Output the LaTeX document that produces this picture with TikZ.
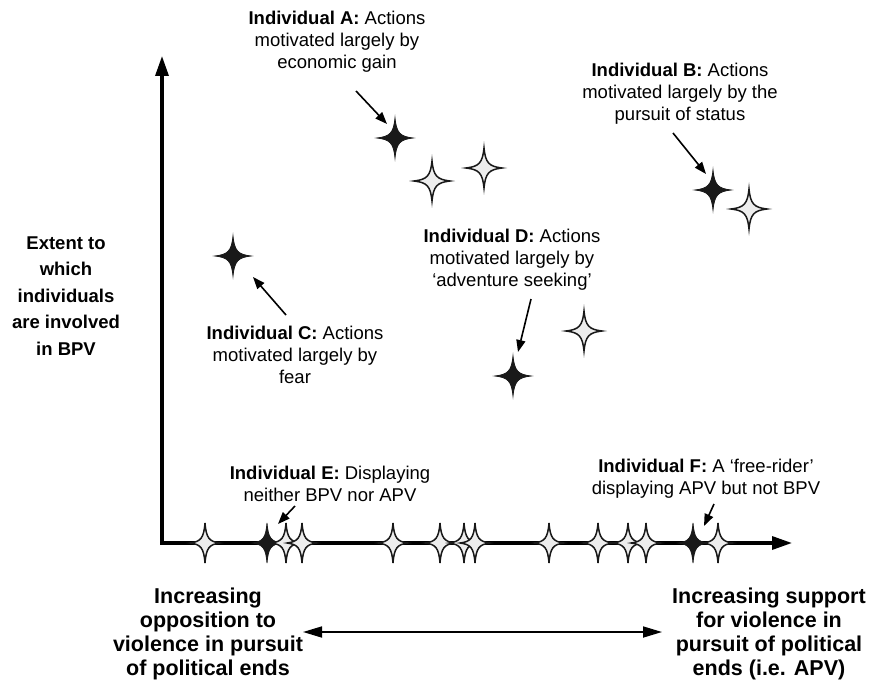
\documentclass[tikz,border=0pt]{standalone}
\usepackage{fontspec}
\setmainfont{Liberation Sans}
\usetikzlibrary{arrows.meta}
\tikzset{
  sparkle/.pic={\path[pic actions] (0,-20) .. controls (1.5,-5) and (5,-1.5) .. (18,0) .. controls (5,1.5) and (1.5,5) .. (0,20)
    .. controls (-1.5,5) and (-5,1.5) .. (-18,0) .. controls (-5,-1.5) and (-1.5,-5) .. (0,-20) -- cycle;}
}
\begin{document}
\begin{tikzpicture}[x=1pt,y=-1pt,
  darkstar/.style={fill=black!90,draw=black!90,line width=0.8pt},
  palestar/.style={fill=black!7,draw=black!90,line width=1.5pt},
  axisstar/.style={xscale=0.82},
  note/.style={align=center,font=\fontsize{18.5}{22}\selectfont,inner sep=0pt},
  caption/.style={align=center,font=\fontsize{21.5}{24}\selectfont\bfseries,inner sep=0pt},
  pointer/.style={line width=1.6pt,-{Triangle[length=12pt,width=9pt]}},
  axis/.style={line width=3.3pt,{Triangle[length=20pt,width=13pt]}-{Triangle[length=20pt,width=13pt]}},
  span/.style={line width=1.7pt,{Triangle[length=19pt,width=11pt]}-{Triangle[length=19pt,width=11pt]}}]
\useasboundingbox (0,0) rectangle (888,690);

% axes
\coordinate (ytop) at (162,56);
\coordinate (xend) at (792,543);
\draw[axis] (ytop) |- (xend);

% stars on the axis
\foreach \px in {267,693}
  \pic[darkstar,axisstar] at (\px,543) {sparkle};
\foreach \px in {205,286,302,393,440,464,475,549,598,628,646,718}
  \pic[palestar,axisstar] at (\px,543) {sparkle};

% stars above the axis
\pic[darkstar] at (395,138) {sparkle};
\pic[palestar] at (432,181) {sparkle};
\pic[palestar] at (484,168) {sparkle};
\pic[darkstar] at (713,190) {sparkle};
\pic[palestar] at (749,209) {sparkle};
\pic[darkstar] at (233,256) {sparkle};
\pic[darkstar] at (513,376) {sparkle};
\pic[palestar] at (584,331) {sparkle};

% labels
\node[note] (noteA) at (337,42) {\textbf{Individual A:} Actions\\motivated largely by\\economic gain};
\node[note] (noteB) at (680,94) {\textbf{Individual B:} Actions\\motivated largely by the\\pursuit of status};
\node[note] (noteC) at (295,355) {\textbf{Individual C:} Actions\\motivated largely by\\fear};
\node[note] (noteD) at (512,260) {\textbf{Individual D:} Actions\\motivated largely by\\`adventure seeking'};
\node[note] (noteE) at (330,484) {\textbf{Individual E:} Displaying\\neither BPV nor APV};
\node[note] (noteF) at (706,479) {\textbf{Individual F:} A `free-rider'\\displaying APV but not BPV};

\node[caption,font=\fontsize{18.5}{26.5}\selectfont\bfseries] (yLabel) at (66,296) {Extent to\\which\\individuals\\are involved\\in BPV};
\node[caption] (oppose) at (208,634) {Increasing\\opposition to\\violence in pursuit\\of political ends};
\node[caption] (support) at (769,634) {Increasing support\\for violence in\\pursuit of political\\ends (i.e. APV)};

% pointers
\coordinate (tailA) at (356,91);  \coordinate (tipA) at (387,124);
\coordinate (tailB) at (673,133); \coordinate (tipB) at (706,174);
\coordinate (tailC) at (286,315); \coordinate (tipC) at (253,277);
\coordinate (tailD) at (531,299); \coordinate (tipD) at (518,352);
\coordinate (tailE) at (295,506); \coordinate (tipE) at (278,524);
\coordinate (tailF) at (714,504); \coordinate (tipF) at (704,526);
\foreach \k in {A,B,C,D,E,F}
  \draw[pointer] (tail\k) -- (tip\k);

\draw[span] (303,632) coordinate (spanL) -- (662,632) coordinate (spanR);
\end{tikzpicture}
\end{document}
